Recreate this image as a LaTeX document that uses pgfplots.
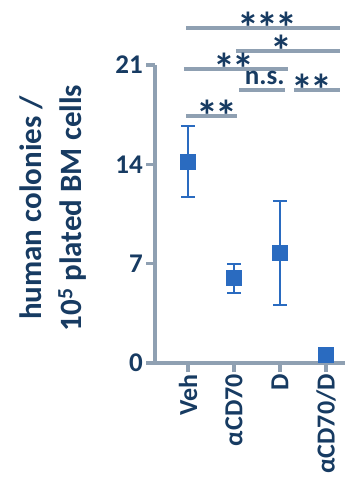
\documentclass[border=0pt]{standalone}
\usepackage{fontspec}
\setmainfont{Carlito}
\usepackage{pgfplots}
\pgfplotsset{compat=1.18}
\definecolor{axgray}{HTML}{8FA0B2}
\definecolor{navy}{HTML}{173B62}
\definecolor{mblue}{HTML}{2A6BC0}
\newcommand{\as}{\makebox[19pt]{*}}
\begin{document}
\begin{tikzpicture}[
  sig/.style={line width=3.5pt, color=axgray},
  ast/.style={text=navy, font=\fontsize{44}{50}\selectfont\bfseries, inner sep=0pt, anchor=base, yshift=-16pt},
  ns/.style={text=navy, font=\fontsize{27}{32}\selectfont\bfseries, inner sep=0pt, anchor=base}]
\path[use as bounding box] (0,0) rectangle (345pt,479pt);
\begin{axis}[
  at={(155pt,116pt)}, anchor=south west,
  scale only axis, width=190pt, height=298pt,
  xmin=-0.717, xmax=3.413, ymin=0, ymax=21,
  axis lines*=left,
  axis line style={line width=3.5pt, color=axgray},
  tick style={line width=3.5pt, color=axgray},
  tick align=outside, major tick length=9pt,
  xtick={0,1,2,3}, xticklabels={Veh,αCD70,D,αCD70/D},
  ytick={0,7,14,21},
  /pgf/number format/assume math mode=true,
  x tick label style={rotate=90, anchor=east, text=navy, font=\fontsize{26}{30}\selectfont\bfseries, inner sep=2pt},
  y tick label style={text=navy, font=\fontsize{27}{32}\selectfont\bfseries, inner sep=3pt},
  ylabel={human colonies /\\10\textsuperscript{5} plated BM cells},
  ylabel style={at={(axis description cs:-0.537,0.52)}, anchor=center, align=center, text=navy, font=\fontsize{31}{40}\selectfont\bfseries},
  clip=false,
]
\addplot[only marks, mark=square*, mark size=7.5pt, color=mblue,
  error bars/.cd, y dir=both, y explicit,
  error bar style={line width=2pt, color=mblue},
  error mark options={rotate=90, mark size=7pt, line width=2pt, color=mblue}]
coordinates {
  (0,14.19) += (0,2.51) -= (0,2.47)
  (1,6.01) += (0,0.97) -= (0,1.06)
  (2,7.77) += (0,3.65) -= (0,3.68)
  (3,0.56) += (0,0) -= (0,0)
};
\draw[sig] (axis cs:-0.04,23.61) -- (axis cs:3.30,23.61);
\draw[sig] (axis cs:1.04,21.99) -- (axis cs:3.30,21.99);
\draw[sig] (axis cs:-0.09,20.72) -- (axis cs:2.17,20.72);
\draw[sig] (axis cs:1.11,19.24) -- (axis cs:2.11,19.24);
\draw[sig] (axis cs:2.30,19.24) -- (axis cs:3.30,19.24);
\draw[sig] (axis cs:-0.04,17.41) -- (axis cs:1.07,17.41);
\node[ast] at (axis cs:1.72,23.61) {\as\as\as};
\node[ast] at (axis cs:2.04,21.99) {\as};
\node[ast] at (axis cs:0.99,20.72) {\as\as};
\node[ns, yshift=5pt] at (axis cs:1.67,19.24) {n.s.};
\node[ast] at (axis cs:2.70,19.24) {\as\as};
\node[ast] at (axis cs:0.62,17.41) {\as\as};
\end{axis}
\end{tikzpicture}
\end{document}
